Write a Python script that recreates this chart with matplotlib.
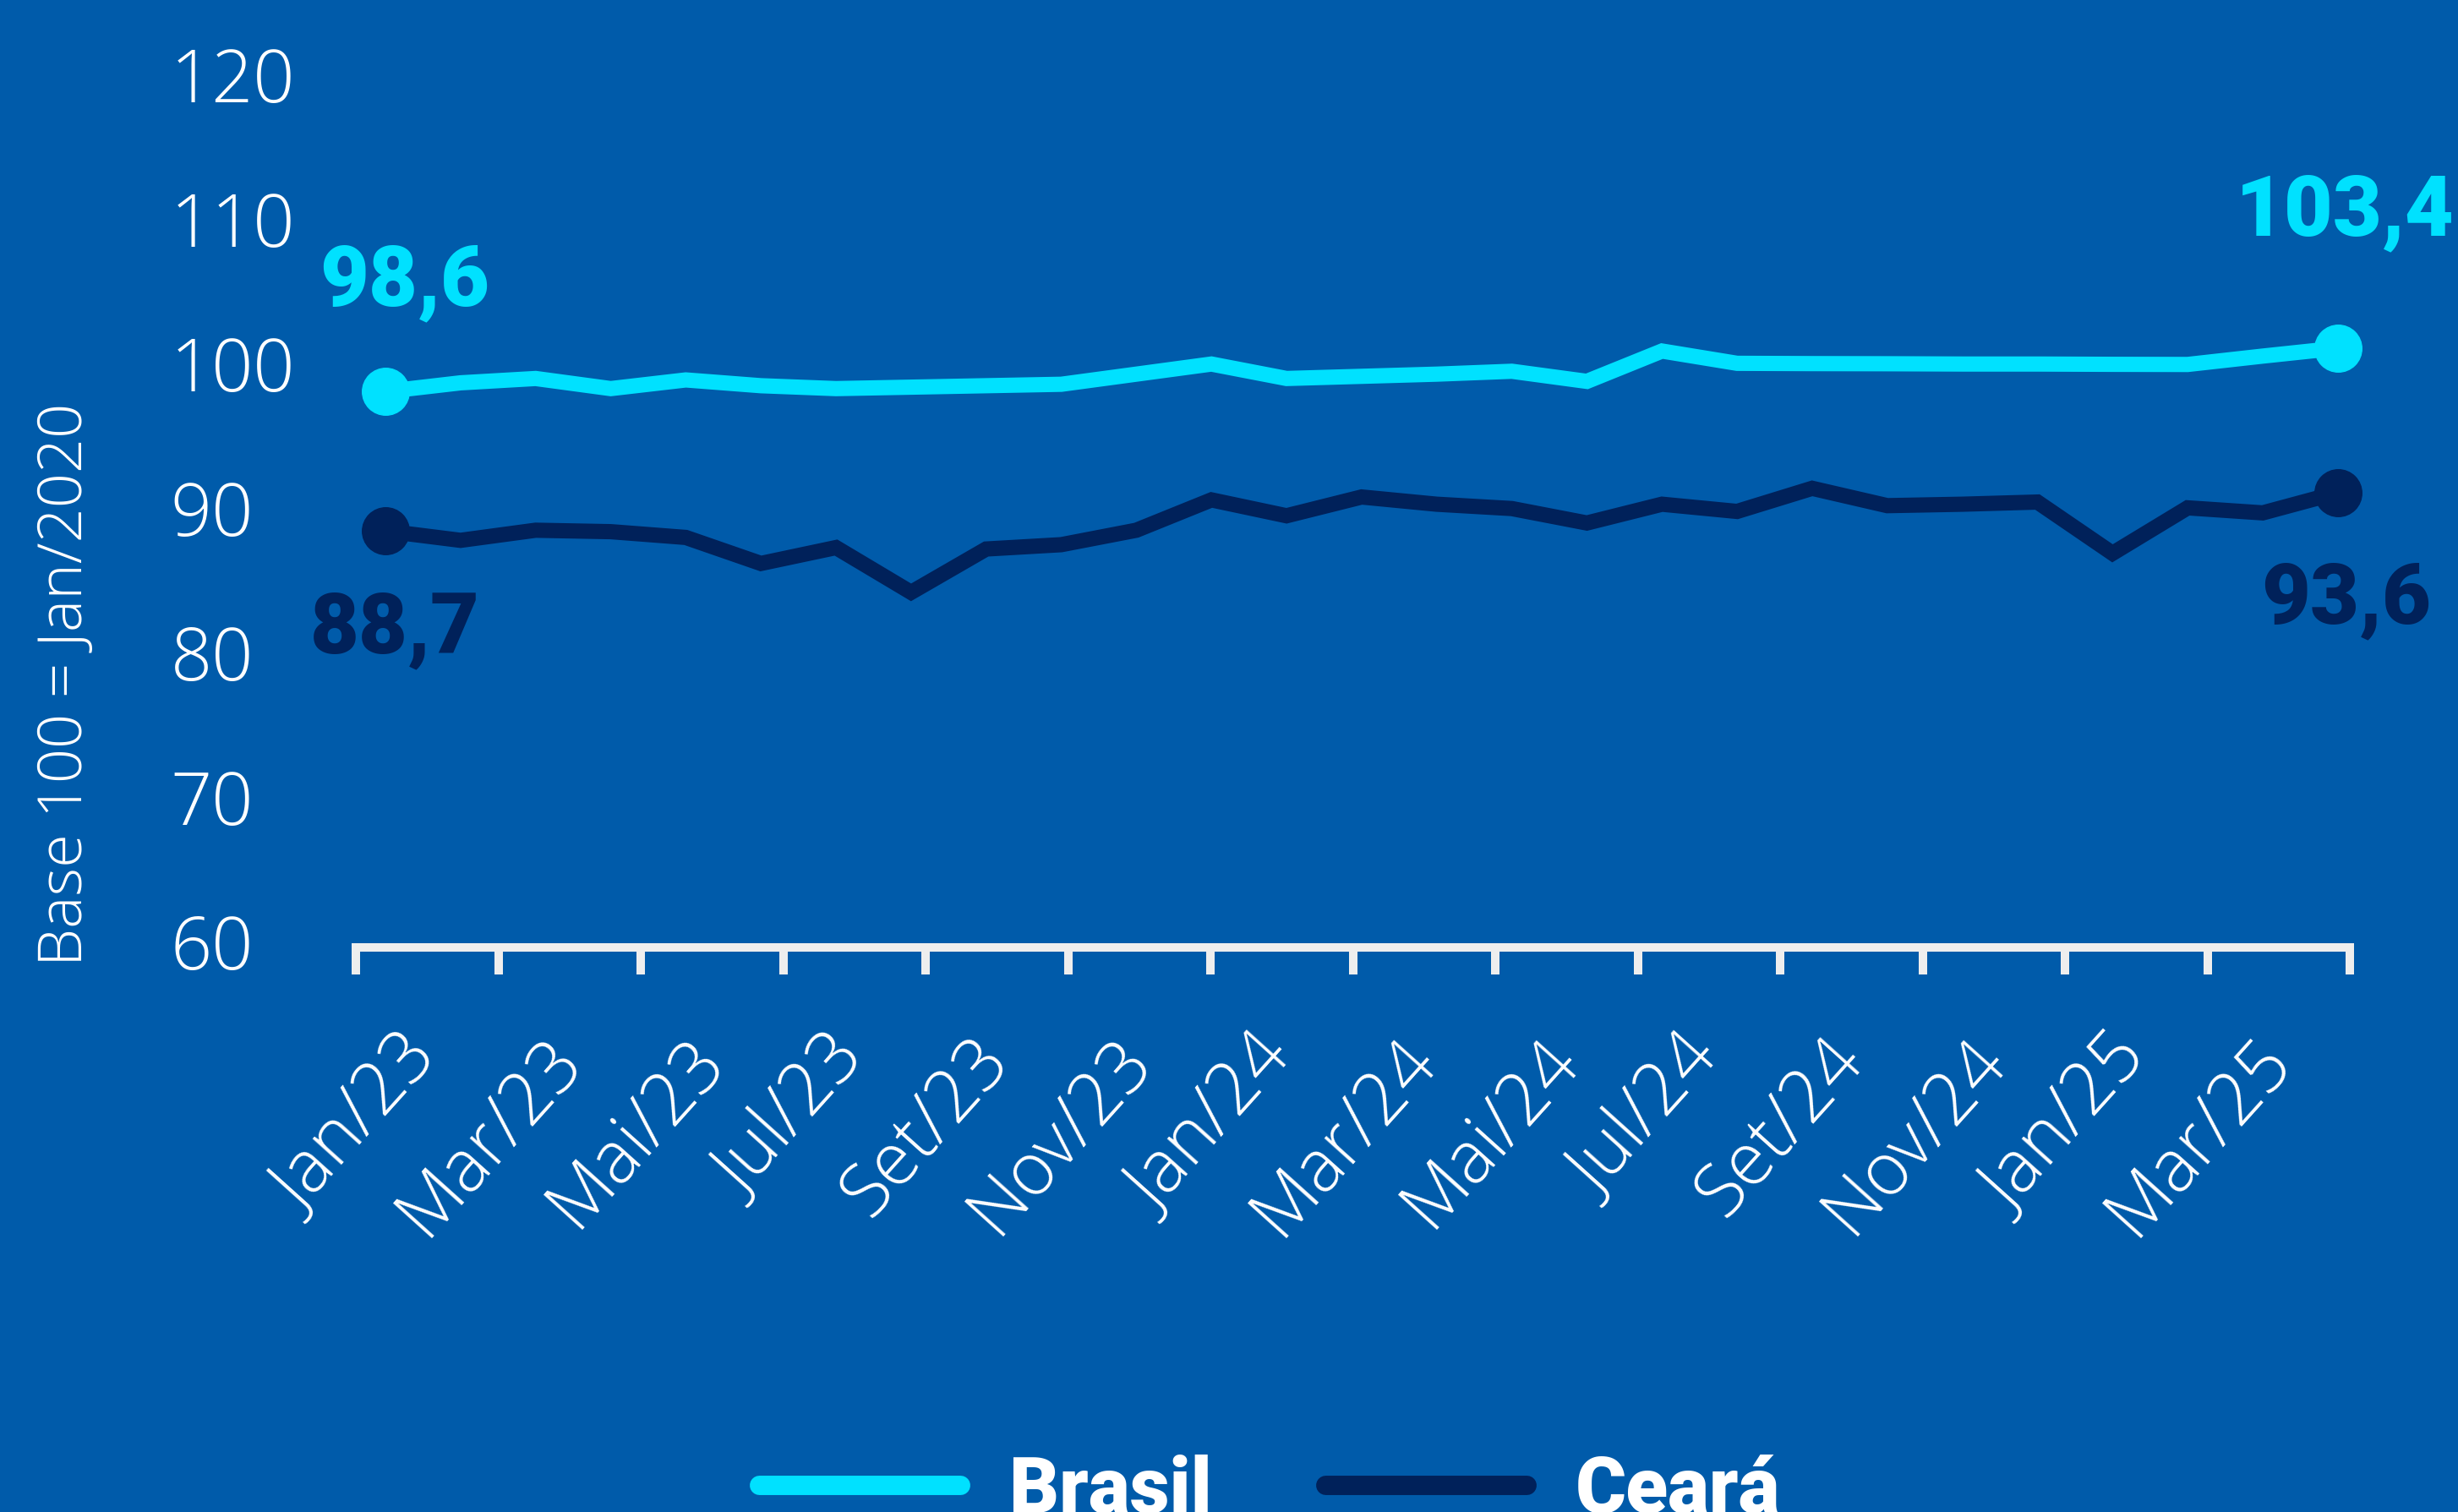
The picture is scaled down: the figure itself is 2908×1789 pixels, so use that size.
import matplotlib.pyplot as plt
import numpy as np

# Data
months = ["Jan/23", "Fev/23", "Mar/23", "Abr/23", "Mai/23", "Jun/23", "Jul/23", "Ago/23",
          "Set/23", "Out/23", "Nov/23", "Dez/23",
          "Jan/24", "Fev/24", "Mar/24", "Abr/24", "Mai/24", "Jun/24", "Jul/24", "Ago/24",
          "Set/24", "Out/24", "Nov/24", "Dez/24",
          "Jan/25", "Fev/25", "Mar/25"]
tick_labels = months[::2]

brasil = [98.0, 98.6, 98.9, 98.2, 98.8, 98.4, 98.2, 98.3, 98.4, 98.5,
          99.2, 99.9, 98.9, 99.05, 99.2, 99.4, 98.7, 100.8, 99.95, 99.93,
          99.92, 99.9, 99.9, 99.88, 99.87, 100.45, 101.0]
ceara = [88.35, 87.7, 88.4, 88.3, 87.9, 86.1, 87.2, 84.1, 87.1, 87.4,
         88.4, 90.5, 89.4, 90.7, 90.2, 89.9, 88.9, 90.2, 89.7, 91.3,
         90.1, 90.2, 90.35, 86.8, 89.95, 89.6, 91.0]
brasil_ends = ["98,6", "103,4"]
ceara_ends = ["88,7", "93,6"]
yticks = [60, 70, 80, 90, 100, 110, 120]

BG = "#005BAA"
CYAN = "#00E1FF"
NAVY = "#00215A"
AXIS = "#EEEEEE"

W, H = 2908, 1790
fig = plt.figure(figsize=(W / 100, H / 100), dpi=100, facecolor=BG)
ax = fig.add_axes([421 / W, 1 - 1122 / H, (2780 - 421) / W, (1122 - 60) / H])
ax.set_facecolor(BG)

x = np.arange(len(months))
ax.plot(x, brasil, color=CYAN, lw=13, solid_joinstyle="miter", label="Brasil", zorder=3)
ax.plot(x, ceara, color=NAVY, lw=13, solid_joinstyle="miter", label="Ceará", zorder=3)
ends = [0, len(months) - 1]
ax.plot(x[ends], np.array(brasil)[ends], "o", color=CYAN, ms=40, zorder=4, clip_on=False)
ax.plot(x[ends], np.array(ceara)[ends], "o", color=NAVY, ms=40, zorder=4, clip_on=False)

lab_font = dict(family=["Roboto", "DejaVu Sans"], fontweight="black", fontsize=72,
                ha="center", va="center")
ax.annotate(brasil_ends[0], (x[0], brasil[0]), xytext=(16, 94), textcoords="offset points",
            color=CYAN, **lab_font)
ax.annotate(brasil_ends[1], (x[-1], brasil[-1]), xytext=(6, 117), textcoords="offset points",
            color=CYAN, **lab_font)
ax.annotate(ceara_ends[0], (x[0], ceara[0]), xytext=(8, -83), textcoords="offset points",
            color=NAVY, **lab_font)
ax.annotate(ceara_ends[1], (x[-1], ceara[-1]), xytext=(7, -91), textcoords="offset points",
            color=NAVY, **lab_font)

# axes limits
xmin, xmax = -0.394, 26.16
ax.set_xlim(xmin, xmax)
ax.set_ylim(59.53, 121.64)

for s in ["top", "right", "left"]:
    ax.spines[s].set_visible(False)
ax.spines["bottom"].set_color(AXIS)
ax.spines["bottom"].set_linewidth(7.2)

# category boundaries as tick marks, labels at category centers
bounds = np.linspace(xmin, xmax, len(tick_labels) + 1)
centers = (bounds[:-1] + bounds[1:]) / 2
ax.set_xticks(bounds, minor=True)
ax.set_xticks(centers)
ax.set_xticklabels(tick_labels, rotation=48, ha="right", va="center",
                   rotation_mode="anchor", color="white", fontsize=62,
                   family=["Open Sans", "DejaVu Sans"], fontweight="light")
ax.tick_params(axis="x", which="major", length=0, pad=86)
ax.tick_params(axis="x", which="minor", length=23, width=7.2, color=AXIS)

ax.set_yticks(yticks)
ax.set_yticklabels([str(v) for v in yticks], color="white", fontsize=62,
                   family=["Open Sans", "DejaVu Sans"], fontweight="light", ha="left")
ax.tick_params(axis="y", length=0, pad=158)

fig.text(78 / W, 1 - 810 / H, "Base 100 = Jan/2020", rotation=90, color="white",
         fontsize=52, family=["Open Sans", "DejaVu Sans"], fontweight="light",
         ha="center", va="center")

leg = ax.legend(loc="center", bbox_to_anchor=(1502 / W, 1 - 1765 / H),
                bbox_transform=fig.transFigure, ncol=2, frameon=False,
                handlelength=2.6, handletextpad=0.63, columnspacing=1.46,
                borderpad=0,
                prop=dict(family=["Roboto", "DejaVu Sans"], weight="black", size=66))
for t in leg.get_texts():
    t.set_color("white")
for h in leg.legend_handles:
    h.set_linewidth(16.5)
    h.set_solid_capstyle("round")

fig.savefig("out.png", dpi=100, facecolor=BG)
